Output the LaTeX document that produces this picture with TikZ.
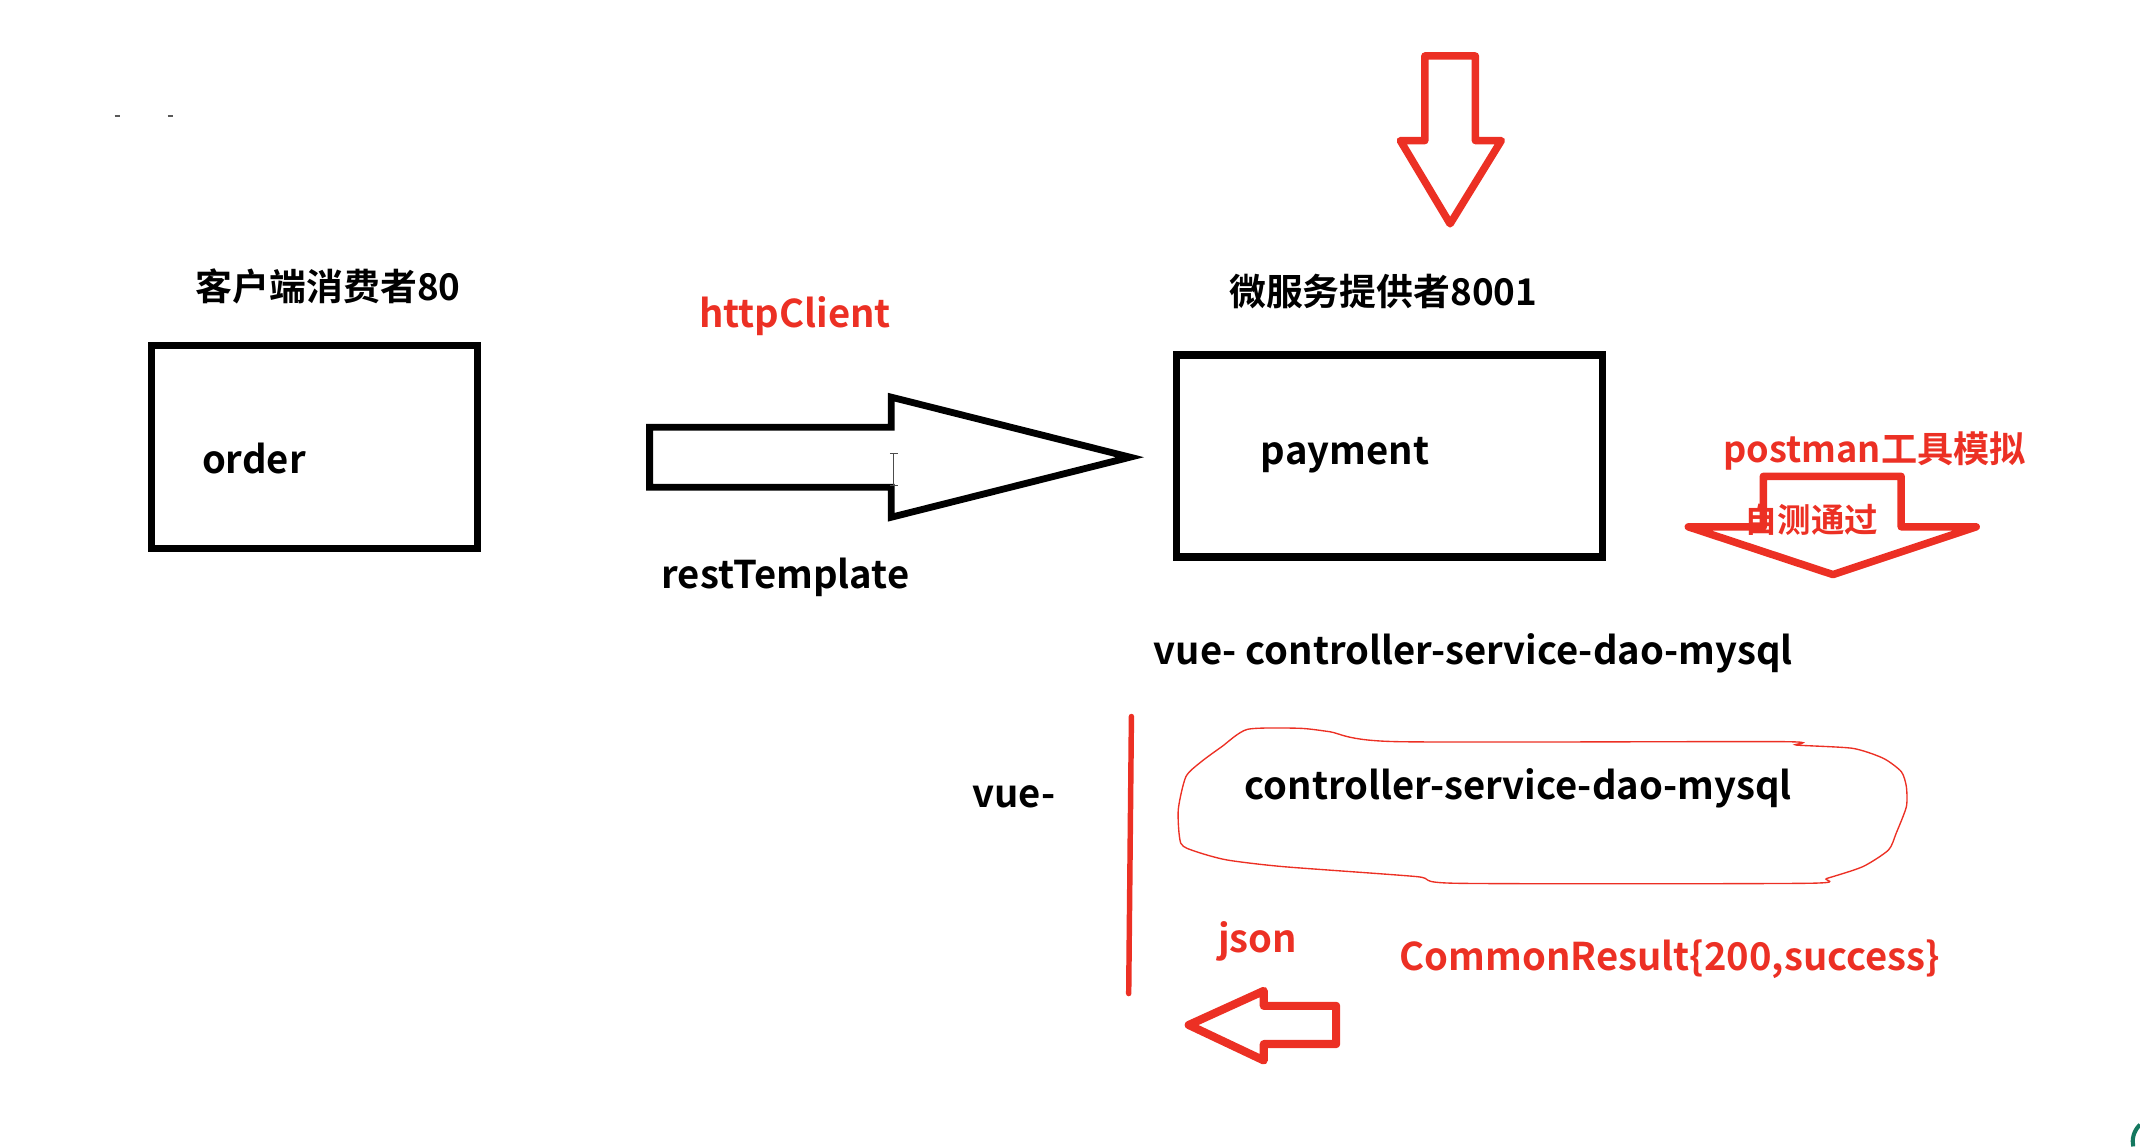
\documentclass[tikz,border=0pt]{standalone}
\usepackage{fontspec}
\setmainfont{Noto Sans CJK SC}[BoldFont={Noto Sans CJK SC Bold}]
\definecolor{mred}{RGB}{236,48,36}
\definecolor{mgreen}{RGB}{20,120,95}
\begin{document}
\begin{tikzpicture}[x=1pt,y=-1pt,
  box/.style={draw, line width=5.5pt, inner sep=0pt},
  lbl/.style={font=\fontsize{28}{28}\selectfont\bfseries, inner sep=0pt, anchor=base},
  cjk/.style={font=\fontsize{27}{27}\selectfont\bfseries, inner sep=0pt, anchor=base},
  redtxt/.style={text=mred},
  blockarrow/.style={draw, line width=5pt, line join=miter},
  redarrow/.style={draw=mred, line width=5.5pt, line join=round},
  redline/.style={draw=mred, line width=4pt, line cap=round},
  blob/.style={draw=mred, line width=1pt}]
\useasboundingbox (0,0) rectangle (1568,840);

% tiny marks top-left
\draw[line width=1.5pt, gray!70!black] (84,85) -- (88,85);
\draw[line width=1.5pt, gray!70!black] (123,85) -- (127,85);

% consumer
\node[cjk] (consumer) at (240.5,220) {客户端消费者80};
\node[box, minimum width=239pt, minimum height=149pt] (orderbox) at (230.5,327.5) {};
\node[lbl] (order) at (186,347) {order};

% http arrow
\node[lbl, redtxt] (http) at (582.5,240) {httpClient};
\draw[blockarrow] (476,313) -- (653,313) -- (653,291) -- (828,335) -- (653,379) -- (653,357) -- (476,357) -- cycle;
\node[lbl] (rest) at (575.5,431) {restTemplate};
% text cursor
\draw[line width=0.8pt, gray!60!black] (655,332) -- (655,356) (652,332) -- (658,332) (652,356) -- (658,356);

% provider
\draw[redarrow] (1044,41) -- (1081,41) -- (1081,103) -- (1100,103) -- (1062.5,164) -- (1026,103) -- (1044,103) -- cycle;
\node[cjk] (provider) at (1013.5,224) {微服务提供者8001};
\node[box, minimum width=312pt, minimum height=148pt] (paybox) at (1018,334) {};
\node[lbl] (payment) at (985.5,340) {payment};

% postman
\node[lbl, redtxt, font=\fontsize{26.5}{26.5}\selectfont\bfseries] (postman) at (1373.5,339) {postman工具模拟};
\node[cjk, redtxt, font=\fontsize{24.5}{24.5}\selectfont\bfseries] (selftest) at (1327,390) {自测通过};
\draw[redarrow] (1292,349) -- (1393,349) -- (1393,386) -- (1448,386) -- (1343,421) -- (1237,386) -- (1292,386) -- cycle;

% chain
\node[lbl] (chain) at (1079.5,487) {vue- controller-service-dao-mysql};
\node[lbl] (vue) at (743,592) {vue-};
\draw[redline] (829,525) -- (827,728);
\draw[blob] plot[smooth cycle, tension=0.4] coordinates {
  (914,534.4) (951.6,533.6) (974.1,536.1) (1023,543.4) (1304.8,543.4)
  (1316.1,545.9) (1357.4,548.3) (1379.9,555.6) (1393.1,565.4) (1396.8,576.4)
  (1396.8,591.1) (1389.3,610.6) (1383.7,622.8) (1364.9,635) (1338.6,643.6)
  (1323.6,647.2) (1068,647.2) (1038,642.3) (940.3,635) (899,630.1)
  (876.5,624) (865.2,617.9) (863.3,593.5) (868.9,569.1) (880.2,558.1) (895.2,547.1)};
\node[lbl] (inner) at (1112.5,586) {controller-service-dao-mysql};

% result
\node[lbl, redtxt] (json) at (921.5,698) {json};
\node[lbl, redtxt] (result) at (1223.5,711) {CommonResult\{200,success\}};
\draw[redarrow, line width=6pt] (979,737) -- (979,765) -- (926,765) -- (926,777) -- (871,751) -- (926,726) -- (926,737) -- cycle;

% green corner mark
\draw[mgreen, line width=3pt] (1568,824) .. controls (1563,829) and (1562,835) .. (1563,840);
\end{tikzpicture}
\end{document}
